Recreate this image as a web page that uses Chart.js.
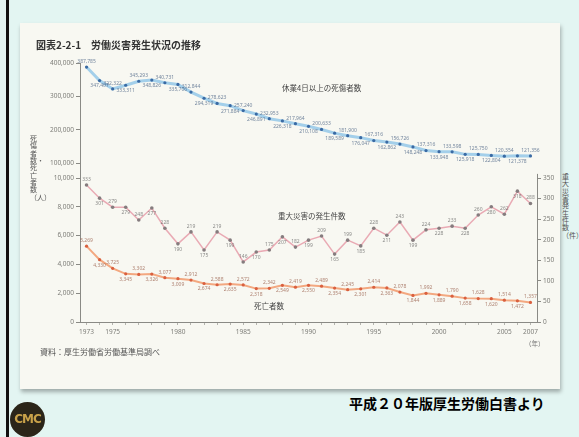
<!DOCTYPE html>
<html lang="ja">
<head>
<meta charset="utf-8">
<script src="https://cdn.jsdelivr.net/npm/chart.js@4.4.1/dist/chart.umd.min.js"></script>
<style>
	html, body { margin: 0; padding: 0; }
	body {
		width: 579px; height: 437px; position: relative; overflow: hidden;
		background: #e3f5f2;
		font-family: "Noto Sans CJK JP", "Noto Sans", sans-serif;
	}
	#frame-line { position: absolute; left: 6px; top: 0; width: 3px; height: 437px; background: #111; }
	#panel {
		position: absolute; left: 20px; top: 23px; width: 540px; height: 366px;
		background: #f8f8f2; box-shadow: 1px 3px 4px rgba(0, 0, 0, 0.3);
	}
	#chart-box { position: absolute; left: 0; top: 0; width: 540px; height: 340px; }
	.txt { position: absolute; white-space: nowrap; color: #444; }
	.vert { white-space: normal; word-break: break-all; width: 1em; line-height: 1.05; text-align: center; }
	#title { left: 16px; top: 14px; font-size: 10px; font-weight: bold; color: #333; }
	#axis-left { left: 10px; top: 112px; font-size: 7px; color: #555; }
	#axis-right { left: 542px; top: 150px; font-size: 7px; color: #555; }
	.series { font-size: 7.5px; }
	#lbl-injuries { left: 262px; top: 59px; }
	#lbl-serious { left: 258px; top: 187px; }
	#lbl-deaths { left: 234px; top: 277px; }
	#year-unit { left: 505px; top: 315px; font-size: 6.5px; color: #777; }
	#source { left: 20px; top: 323px; font-size: 8px; color: #555; }
	#caption { position: absolute; left: 349px; top: 393px; font-size: 14px; font-weight: bold; color: #000; white-space: nowrap; }
	#logo {
		position: absolute; left: 10px; top: 402px; width: 35px; height: 35px; border-radius: 50%;
		background: #2b2519; color: #c9a24a; font: bold 12px "DejaVu Sans", sans-serif;
		line-height: 35px; text-align: center; letter-spacing: -1px;
	}
</style>
</head>
<body>
<div id="frame-line"></div>
<div id="panel">
	<div id="chart-box"><canvas id="accident-chart"></canvas></div>
	<div class="txt" id="title">図表2-2-1　労働災害発生状況の推移</div>
	<div class="txt vert" id="axis-left">死傷者数・死亡者数（人）</div>
	<div class="txt vert" id="axis-right">重大災害発生件数（件）</div>
	<div class="txt series" id="lbl-injuries">休業4日以上の死傷者数</div>
	<div class="txt series" id="lbl-serious">重大災害の発生件数</div>
	<div class="txt series" id="lbl-deaths">死亡者数</div>
	<div class="txt" id="year-unit">（年）</div>
	<div class="txt" id="source">資料：厚生労働省労働基準局調べ</div>
</div>
<div id="caption">平成２０年版厚生労働白書より</div>
<div id="logo">CMC</div>

<script>
'use strict';

const YEARS = [
	1973, 1974, 1975, 1976, 1977, 1978, 1979, 1980, 1981, 1982,
	1983, 1984, 1985, 1986, 1987, 1988, 1989, 1990, 1991, 1992,
	1993, 1994, 1995, 1996, 1997, 1998, 1999, 2000, 2001, 2002,
	2003, 2004, 2005, 2006, 2007,
];

// 休業4日以上の死傷者数
const INJURIES = [
	387785, 347407, 322322, 333311, 345293, 348826, 340731, 335706, 312844, 294319,
	278623, 271884, 257240, 246891, 232953, 226318, 217964, 210108, 200633, 189589,
	181900, 176047, 167316, 162862, 156726, 148248, 137316, 133948, 133598, 125918,
	125750, 122804, 120354, 121378, 121356,
];

// 重大災害の発生件数
const SERIOUS = [
	333, 301, 279, 279, 248, 277, 228, 190, 219, 175,
	219, 199, 146, 170, 175, 207, 182, 199, 209, 165,
	199, 185, 228, 211, 243, 199, 224, 228, 233, 228,
	260, 280, 262, 318, 288,
];

// 死亡者数
const DEATHS = [
	5269, 4330, 3725, 3345, 3302, 3326, 3077, 3009, 2912, 2674,
	2588, 2635, 2572, 2318, 2342, 2549, 2419, 2550, 2489, 2354,
	2245, 2301, 2414, 2363, 2078, 1844, 1992, 1889, 1790, 1658,
	1628, 1620, 1514, 1472, 1357,
];

const X_LABEL_YEARS = [1973, 1975, 1980, 1985, 1990, 1995, 2000, 2005, 2007];
const HIGH_TICKS = [100000, 200000, 300000, 400000];
const LOW_TICKS = [0, 1000, 2000, 3000, 4000, 5000, 6000, 7000, 8000, 9000, 10000];
const RIGHT_TICKS = [0, 50, 100, 150, 200, 250, 300, 350];

const TICK_FONT = { family: 'Noto Sans', size: 6.5 };
const TICK_COLOR = '#7d7d78';

function fmt(v) {
	return v.toLocaleString('en-US');
}

// small value labels next to every point, alternating above / below
const valueLabels = {
	id: 'valueLabels',
	afterDatasetsDraw(chart) {
		const ctx = chart.ctx;
		ctx.save();
		ctx.font = '5px "Noto Sans"';
		ctx.textAlign = 'center';
		chart.data.datasets.forEach((ds, i) => {
			const meta = chart.getDatasetMeta(i);
			ctx.fillStyle = ds.labelColor;
			meta.data.forEach((pt, j) => {
				const up = j % 2 === 0;
				ctx.textBaseline = up ? 'bottom' : 'top';
				ctx.fillText(fmt(ds.data[j]), pt.x, pt.y + (up ? -3 : 3));
			});
		});
		ctx.restore();
	},
};

// right axis line only spans the 0-350 part
const rightAxisLine = {
	id: 'rightAxisLine',
	afterDraw(chart) {
		const s = chart.scales.yRight;
		const ctx = chart.ctx;
		ctx.save();
		ctx.strokeStyle = '#8a8a85';
		ctx.lineWidth = 1;
		ctx.beginPath();
		ctx.moveTo(s.left + 0.5, s.getPixelForValue(0));
		ctx.lineTo(s.left + 0.5, s.getPixelForValue(360));
		ctx.stroke();
		ctx.restore();
	},
};

function buildDatasets() {
	return [
		{
			label: '休業4日以上の死傷者数',
			data: INJURIES,
			yAxisID: 'yHigh',
			borderColor: '#a3cfea',
			borderWidth: 3,
			pointRadius: 1.6,
			pointBackgroundColor: '#3a6aa3',
			pointBorderWidth: 0,
			labelColor: 'rgba(70, 95, 130, 0.75)',
		},
		{
			label: '重大災害の発生件数',
			data: SERIOUS,
			yAxisID: 'yRight',
			borderColor: '#e9aab4',
			borderWidth: 1.5,
			pointRadius: 1.8,
			pointBackgroundColor: '#857c7e',
			pointBorderWidth: 0,
			labelColor: 'rgba(90, 90, 90, 0.7)',
		},
		{
			label: '死亡者数',
			data: DEATHS,
			yAxisID: 'yLow',
			borderColor: '#f3a880',
			borderWidth: 2,
			pointRadius: 1.6,
			pointBackgroundColor: '#d9603f',
			pointBorderWidth: 0,
			labelColor: 'rgba(150, 90, 70, 0.75)',
		},
	];
}

function fixedTicks(values) {
	return (axis) => {
		axis.ticks = values.map((v) => ({ value: v }));
	};
}

function leftAxis(min, max, ticks, weight) {
	return {
		type: 'linear',
		position: 'left',
		stack: 'left',
		stackWeight: weight,
		min: min,
		max: max,
		afterBuildTicks: fixedTicks(ticks),
		afterFit: (s) => { s.width = 40; },
		border: { color: '#8a8a85' },
		grid: { drawOnChartArea: false, tickLength: 4, color: '#8a8a85' },
		ticks: { font: TICK_FONT, color: TICK_COLOR, padding: 2, callback: (v) => fmt(v) },
	};
}

function buildScales() {
	return {
		x: {
			offset: true,
			afterFit: (s) => { s.height = 18; },
			border: { color: '#8a8a85' },
			grid: { drawOnChartArea: false, tickLength: 3, color: '#b4b4ae', offset: false },
			ticks: {
				font: TICK_FONT,
				color: TICK_COLOR,
				autoSkip: false,
				maxRotation: 0,
				padding: 3,
				callback: (v, i) => (X_LABEL_YEARS.includes(YEARS[i]) ? YEARS[i] : ''),
			},
		},
		// the stacked left axis: 0-10,000 below, 100,000-400,000 above
		yLow: leftAxis(0, 10000, LOW_TICKS, 144),
		yHigh: leftAxis(55000, 400000, HIGH_TICKS, 115),
		yRight: {
			type: 'linear',
			position: 'right',
			min: 0,
			max: 350 * 259 / 144,
			afterBuildTicks: fixedTicks(RIGHT_TICKS),
			afterFit: (s) => { s.width = 22; },
			border: { display: false },
			grid: { drawOnChartArea: false, tickLength: 4, color: '#8a8a85' },
			ticks: { font: TICK_FONT, color: TICK_COLOR, padding: 2 },
		},
	};
}

function makeAccidentChart() {
	const ctx = document.querySelector('#accident-chart').getContext('2d');
	return new Chart(ctx, {
		type: 'line',
		data: {
			labels: YEARS.map(String),
			datasets: buildDatasets(),
		},
		options: {
			responsive: true,
			maintainAspectRatio: false,
			animation: false,
			layout: { autoPadding: false, padding: { left: 20, right: 1, top: 40, bottom: 23 } },
			plugins: { legend: { display: false }, tooltip: { enabled: false } },
			scales: buildScales(),
		},
		plugins: [valueLabels, rightAxisLine],
	});
}

makeAccidentChart();
</script>
</body>
</html>
